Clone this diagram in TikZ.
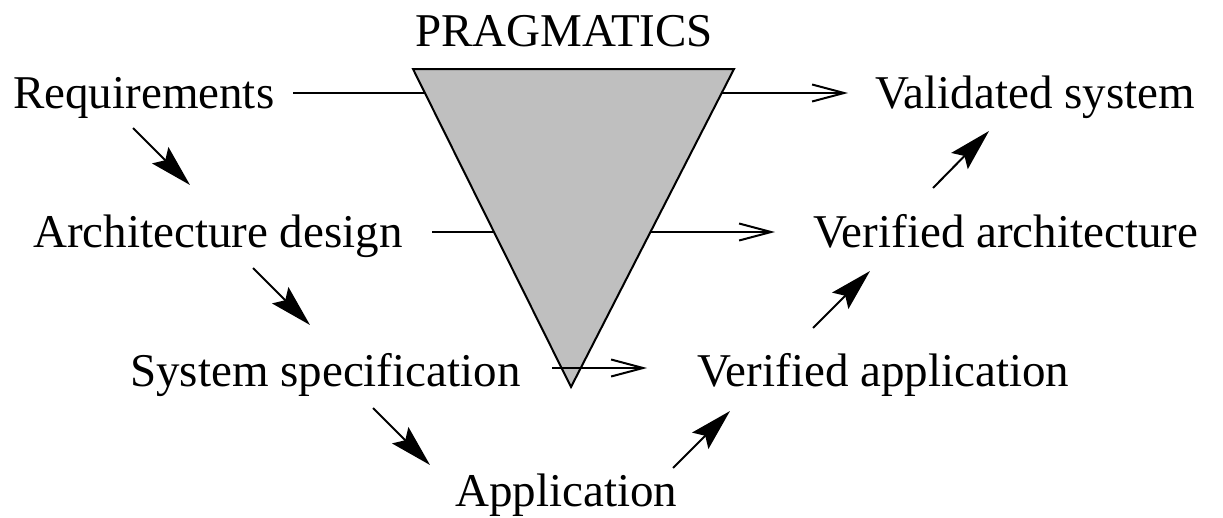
\documentclass[tikz,border=0pt]{standalone}
\usepackage{fontspec}
\setmainfont{Liberation Serif}
\usetikzlibrary{arrows.meta}
\begin{document}
\begin{tikzpicture}[x=1pt,y=-1pt,
  lbl/.style={anchor=base west,inner sep=0pt,font=\fontsize{47}{56}\selectfont},
  plainline/.style={line width=2pt},
  flowarrow/.style={line width=2pt,-{Straight Barb[length=32pt,width=17pt,line width=2pt]}},
  darrow/.style={line width=2pt,-{Stealth[length=42pt,width=23pt,inset=7pt]}},
  funnel/.style={draw,line width=2pt,fill=black!25,line join=miter}]
\useasboundingbox (0,0) rectangle (1223,517);

% labels
\node[lbl] (prag) at (415,46) {PRAGMATICS};
\node[lbl] (req) at (13,108) {Requirements};
\node[lbl] (arch) at (33,247) {Architecture design};
\node[lbl] (sys) at (130,386) {System specification};
\node[lbl] (app) at (455,506) {Application};
\node[lbl] (val) at (875,108) {Validated system};
\node[lbl] (varch) at (813,247) {Verified architecture};
\node[lbl] (vapp) at (697,386) {Verified application};

% triangle
\coordinate (t1) at (413,69);
\coordinate (t2) at (734,69);
\coordinate (t3) at (571,387);
\path[funnel] (t1) -- (t2) -- (t3) -- cycle;

% horizontal connectors
\coordinate (r1a) at (293,93);
\coordinate (r1b) at (425,93);
\coordinate (r1c) at (722,93);
\coordinate (r1d) at (848,93);
\coordinate (r2a) at (432,232);
\coordinate (r2b) at (494,232);
\coordinate (r2c) at (650,232);
\coordinate (r2d) at (775,232);
\coordinate (r3a) at (552,368);
\coordinate (r3d) at (647,368);
\draw[plainline] (r1a) -- (r1b);
\draw[flowarrow] (r1c) -- (r1d);
\draw[plainline] (r2a) -- (r2b);
\draw[flowarrow] (r2c) -- (r2d);
\draw[flowarrow] (r3a) -- (r3d);

% diagonal connectors
\coordinate (d1s) at (133,128);
\coordinate (d1e) at (190,185);
\coordinate (d2s) at (253,268);
\coordinate (d2e) at (310,325);
\coordinate (d3s) at (373,408);
\coordinate (d3e) at (430,465);
\coordinate (d4s) at (673,468);
\coordinate (d4e) at (730,411);
\coordinate (d5s) at (813,328);
\coordinate (d5e) at (870,271);
\coordinate (d6s) at (933,188);
\coordinate (d6e) at (989,131);
\draw[darrow] (d1s) -- (d1e);
\draw[darrow] (d2s) -- (d2e);
\draw[darrow] (d3s) -- (d3e);
\draw[darrow] (d4s) -- (d4e);
\draw[darrow] (d5s) -- (d5e);
\draw[darrow] (d6s) -- (d6e);
\end{tikzpicture}
\end{document}
